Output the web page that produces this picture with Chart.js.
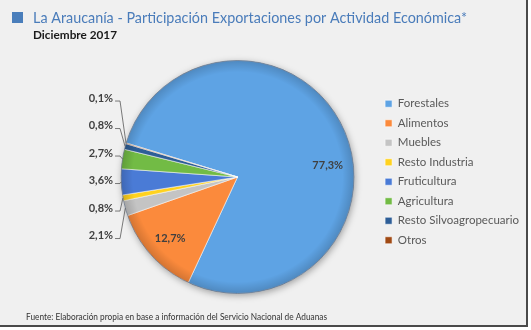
<!DOCTYPE html>
<html>
<head>
<meta charset="utf-8">
<script src="https://cdn.jsdelivr.net/npm/chart.js@4.4.1/dist/chart.umd.min.js"></script>
<style>
  html, body { margin: 0; padding: 0; background: #ffffff; }
  #frame {
    position: absolute; left: 0; top: 0;
    width: 526px; height: 325px;
    background: #f0f0f0;
    border-right: 2px solid #4a4a4a;
    border-bottom: 2px solid #4a4a4a;
  }
  #wrap { position: relative; width: 526px; height: 325px; }
</style>
</head>
<body>
<div id="frame"><div id="wrap"><canvas id="pieChart"></canvas></div></div>
<script>
// data
const titleText = "La Araucanía - Participación Exportaciones por Actividad Económica*";
const subtitleText = "Diciembre 2017";
const sourceText = "Fuente: Elaboración propia en base a información del Servicio Nacional de Aduanas";

const categories = ["Forestales", "Alimentos", "Muebles", "Resto Industria",
  "Fruticultura", "Agricultura", "Resto Silvoagropecuario", "Otros"];
const shares = [77.3, 12.7, 2.1, 0.8, 3.6, 2.7, 0.8, 0.1];

const sliceColors = ["#5ea3e4", "#fb8a3c", "#c4c4c4", "#ffd21f",
  "#4a7bd6", "#72bb45", "#2e5e97", "#a04a14"];

const FONT = "Lato, 'Open Sans', sans-serif";

function pct(v) {
  return v.toFixed(1).replace('.', ',') + '%';
}

// header, footer and the little blue square
const headerPlugin = {
  id: 'header',
  afterDraw(chart) {
    const ctx = chart.ctx;
    ctx.save();
    ctx.fillStyle = '#4a7ebb';
    ctx.fillRect(12, 12, 11, 11);
    ctx.textBaseline = 'alphabetic';
    ctx.textAlign = 'left';
    ctx.fillStyle = '#4a7cba';
    ctx.font = '16px ' + FONT;
    ctx.fillText(titleText, 33, 23, 434);
    ctx.fillStyle = '#1a1a1a';
    ctx.font = 'bold 12px ' + FONT;
    ctx.fillText(subtitleText, 33, 39, 84);
    ctx.fillStyle = '#333333';
    ctx.font = '9px ' + FONT;
    ctx.fillText(sourceText, 26, 320, 301);
    ctx.restore();
  }
};

// lift the legend a little so it sits where the reference has it
const legendNudge = {
  id: 'legendNudge',
  afterLayout(chart) {
    const lg = chart.legend;
    if (lg) { lg.top -= 5; lg.bottom -= 5; }
  }
};

// soft shadow under the pie and a darker rim for the bevel look
const bevelPlugin = {
  id: 'bevel',
  beforeDatasetsDraw(chart) {
    const arc = chart.getDatasetMeta(0).data[0];
    if (!arc) return;
    const {x, y, outerRadius} = arc.getProps(['x', 'y', 'outerRadius'], true);
    const ctx = chart.ctx;
    ctx.save();
    ctx.shadowColor = 'rgba(0,0,0,0.35)';
    ctx.shadowBlur = 7;
    ctx.shadowOffsetX = 1;
    ctx.shadowOffsetY = 2;
    ctx.beginPath();
    ctx.arc(x, y, outerRadius, 0, Math.PI * 2);
    ctx.fillStyle = '#8a8a8a';
    ctx.fill();
    ctx.restore();
  },
  afterDatasetsDraw(chart) {
    const arc = chart.getDatasetMeta(0).data[0];
    if (!arc) return;
    const {x, y, outerRadius} = arc.getProps(['x', 'y', 'outerRadius'], true);
    const ctx = chart.ctx;
    ctx.save();
    const g = ctx.createRadialGradient(x, y, outerRadius * 0.9, x, y, outerRadius);
    g.addColorStop(0, 'rgba(0,0,0,0)');
    g.addColorStop(1, 'rgba(0,0,0,0.16)');
    ctx.beginPath();
    ctx.arc(x, y, outerRadius, 0, Math.PI * 2);
    ctx.fillStyle = g;
    ctx.fill();
    ctx.lineWidth = 1;
    ctx.strokeStyle = 'rgba(40,60,90,0.45)';
    ctx.stroke();
    ctx.restore();
  }
};

// percentage labels, inside for big slices, with leader lines for small ones
const labelPlugin = {
  id: 'sliceLabels',
  afterDraw(chart) {
    const meta = chart.getDatasetMeta(0);
    const ctx = chart.ctx;
    const values = chart.data.datasets[0].data;
    const outside = [];
    let cx = 0, cy = 0, r = 0;
    ctx.save();
    ctx.font = 'bold 11px ' + FONT;
    ctx.fillStyle = '#404040';
    ctx.textBaseline = 'middle';
    meta.data.forEach((el, i) => {
      const p = el.getProps(['x', 'y', 'startAngle', 'endAngle', 'outerRadius'], true);
      cx = p.x; cy = p.y; r = p.outerRadius;
      let mid = (p.startAngle + p.endAngle) / 2;
      if (values[i] > 10) {
        // the dominant slice's label sits a bit lower, like Excel's best fit
        if (values[i] > 50) mid += 17 * Math.PI / 180;
        ctx.textAlign = 'center';
        ctx.fillText(pct(values[i]), p.x + Math.cos(mid) * r * 0.78, p.y + Math.sin(mid) * r * 0.78);
      } else {
        outside.push({
          text: pct(values[i]),
          ex: p.x + Math.cos(mid) * r,
          ey: p.y + Math.sin(mid) * r
        });
      }
    });
    // stack the small labels in a column left of the pie
    outside.sort((a, b) => a.ey - b.ey);
    const gap = 27.5;
    const mean = outside.reduce((s, o) => s + o.ey, 0) / outside.length;
    const top = mean - 6 - gap * (outside.length - 1) / 2;
    const textRight = cx - r - 8;
    ctx.textAlign = 'right';
    ctx.strokeStyle = '#595959';
    ctx.lineWidth = 0.8;
    outside.forEach((o, k) => {
      const ly = top + k * gap;
      ctx.fillText(o.text, textRight, ly);
      ctx.beginPath();
      ctx.moveTo(textRight + 2, ly + 3);
      ctx.lineTo(textRight + 7, ly + 3);
      ctx.lineTo(o.ex, o.ey);
      ctx.stroke();
    });
    ctx.restore();
  }
};

new Chart("pieChart", {
  type: "pie",
  data: {
    labels: categories,
    datasets: [{
      data: shares,
      backgroundColor: sliceColors,
      borderColor: "rgba(255,255,255,0.55)",
      borderWidth: 1
    }]
  },
  options: {
    responsive: true,
    maintainAspectRatio: false,
    animation: false,
    rotation: 287,
    layout: {
      padding: { top: 60, bottom: 31, left: 98, right: -3 }
    },
    plugins: {
      tooltip: { enabled: false },
      legend: {
        display: true,
        position: 'right',
        labels: {
          boxWidth: 7,
          boxHeight: 7,
          padding: 8,
          color: '#595959',
          font: { family: FONT, size: 11.5 }
        }
      }
    }
  },
  plugins: [headerPlugin, legendNudge, bevelPlugin, labelPlugin]
});
</script>
</body>
</html>
